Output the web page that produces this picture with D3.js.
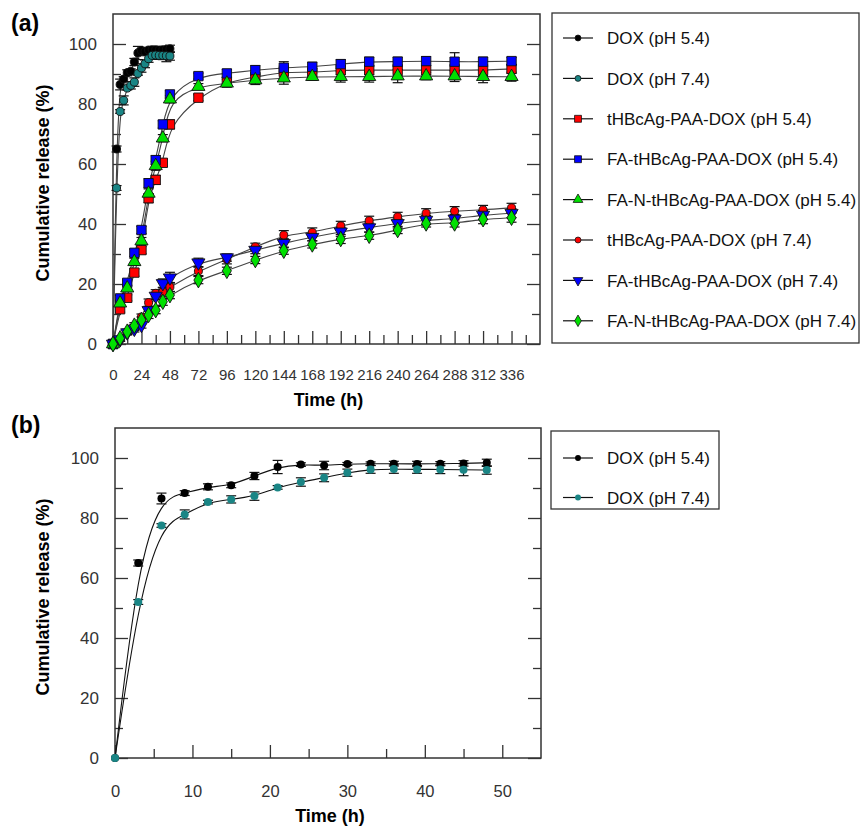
<!DOCTYPE html>
<html>
<head>
<meta charset="utf-8">
<script src="https://cdn.jsdelivr.net/npm/d3@7"></script>
<style>
  body { margin: 0; background: #fff; }
  svg { display: block; font-family: "Liberation Sans", Arial, sans-serif; }
</style>
</head>
<body>
<div id="chart"></div>
<script>
// time points (h)
const timeDox = [0, 3, 6, 9, 12, 15, 18, 21, 24, 27, 30, 33, 36, 39, 42, 45, 48];
const timeNP = [0, 6, 12, 18, 24, 30, 36, 42, 48, 72, 96, 120, 144, 168, 192, 216, 240, 264, 288, 312, 336];

// free DOX
const dox54 = [0, 65, 86.5, 88.3, 90.4, 90.9, 94, 97, 97.8, 97.5, 98, 98.1, 98.1, 98, 98.1, 98.2, 98.4];
const dox54Err = [0, 1, 1.8, 0.8, 1, 0.8, 1.2, 2.2, 0.6, 1.4, 0.5, 0.6, 0.8, 0.9, 0.7, 0.9, 1.2];
const dox74 = [0, 52, 77.5, 81.2, 85.3, 86.2, 87.3, 90.2, 92, 93.4, 95.1, 96.2, 96.3, 96.2, 96.2, 96.1, 96];
const dox74Err = [0, 0.8, 0.6, 1.5, 0.6, 1.2, 1.4, 0.6, 1.4, 1.3, 1.2, 1.3, 1.4, 1.3, 1.4, 2, 1.4];

// nanoparticle formulations
const tHB54 = [0, 11.6, 15.4, 23.8, 31.3, 48.6, 54.7, 60.4, 73.2, 82.1, 87.4, 88.9, 90.8, 90.4, 91.3, 91.3, 91.3, 91.3, 91.3, 91.3, 91.7];
const tHB54Err = [0, 1, 1, 1.2, 1.2, 1.5, 1.5, 1.2, 1.5, 1, 1.5, 1.5, 1.8, 1.5, 1.5, 1.5, 1.8, 1.5, 1.8, 1.8, 1.5];
const faT54 = [0, 15.2, 20.4, 30.4, 38, 53.6, 61.3, 73.2, 83.2, 89.3, 90.2, 91.3, 92.1, 92.4, 93.3, 94.1, 94.1, 94.3, 94.1, 94.1, 94.3];
const faT54Err = [0, 1, 1, 1.2, 1.2, 1.5, 1.5, 1.2, 1.2, 1, 1.3, 1.5, 2, 1.5, 1.5, 1.5, 1.5, 1.5, 3, 1.5, 1.2];
const faN54 = [0, 13.6, 18.6, 27.4, 34.3, 50.2, 59.4, 68.6, 81.6, 85.8, 86.9, 88, 88.6, 89.1, 89.1, 89.1, 89.3, 89.3, 89.3, 89.1, 89.1];
const faN54Err = [0, 1, 1, 1.2, 1.2, 1.5, 1.5, 1.2, 1.2, 1, 1.3, 1.5, 2, 1.2, 1.8, 1.8, 2.2, 1.2, 1.8, 2, 1.5];
const tHB74 = [0, 1.5, 4, 5.5, 9, 13.8, 16.9, 17.4, 19, 24.3, 28.2, 32.4, 36.3, 37.2, 39.4, 41.1, 42.4, 43.6, 44.3, 44.7, 45.4];
const tHB74Err = [0, 0.6, 0.8, 1, 1, 1.2, 1.2, 1.5, 1.5, 1.5, 1.5, 1.2, 1.5, 1.5, 1.5, 1.5, 1.5, 1.5, 1.5, 1.5, 1.5];
const faT74 = [0, 1.5, 3.8, 5, 6.3, 11.2, 16, 20.2, 22.1, 27.1, 28.8, 31.3, 33.6, 35.6, 37.4, 38.8, 40.2, 41.3, 41.7, 43, 43.6];
const faT74Err = [0, 0.6, 0.8, 1, 1, 1.2, 1.2, 1.5, 1.8, 1.5, 1.2, 1.2, 1.5, 1.2, 1.5, 1.5, 1.5, 1.5, 1.5, 1.5, 1.5];
const faN74 = [0, 1.9, 4.1, 6.1, 8, 9.7, 11.3, 14.1, 16.3, 21.3, 24.4, 28, 31.1, 33.2, 35, 36.1, 38, 40.2, 40.2, 41.6, 42.1];
const faN74Err = [0, 0.6, 0.8, 1, 1, 1.2, 1.2, 1.2, 1.2, 1.2, 1.2, 1.2, 1.2, 1.2, 1.5, 1.2, 1.2, 1.2, 1.2, 1.5, 1.5];

const labelsA = ["DOX (pH 5.4)", "DOX (pH 7.4)", "tHBcAg-PAA-DOX (pH 5.4)", "FA-tHBcAg-PAA-DOX (pH 5.4)",
  "FA-N-tHBcAg-PAA-DOX (pH 5.4)", "tHBcAg-PAA-DOX (pH 7.4)", "FA-tHBcAg-PAA-DOX (pH 7.4)", "FA-N-tHBcAg-PAA-DOX (pH 7.4)"];
const xTicksA = [0, 24, 48, 72, 96, 120, 144, 168, 192, 216, 240, 264, 288, 312, 336];
const xTicksB = [0, 10, 20, 30, 40, 50];
const yTicks = [0, 20, 40, 60, 80, 100];

const teal = "#1a8585";
const seriesA = [
  { name: labelsA[0], t: timeDox, v: dox54, e: dox54Err, shape: "circle", fill: "#000" },
  { name: labelsA[1], t: timeDox, v: dox74, e: dox74Err, shape: "circle", fill: teal },
  { name: labelsA[2], t: timeNP, v: tHB54, e: tHB54Err, shape: "square", fill: "#ff0000" },
  { name: labelsA[3], t: timeNP, v: faT54, e: faT54Err, shape: "square", fill: "#0000ff" },
  { name: labelsA[4], t: timeNP, v: faN54, e: faN54Err, shape: "triangle", fill: "#00e000" },
  { name: labelsA[5], t: timeNP, v: tHB74, e: tHB74Err, shape: "circle", fill: "#ff0000" },
  { name: labelsA[6], t: timeNP, v: faT74, e: faT74Err, shape: "down", fill: "#0000ff" },
  { name: labelsA[7], t: timeNP, v: faN74, e: faN74Err, shape: "diamond", fill: "#00e000" }
];
const seriesB = [seriesA[0], seriesA[1]];

const svg = d3.select("#chart").append("svg").attr("width", 861).attr("height", 828);

function symbolPath(shape, scale) {
  const s = scale || 1;
  if (shape === "circle") return d3.symbol(d3.symbolCircle, 46 * s)();
  if (shape === "square") return d3.symbol(d3.symbolSquare, 80 * s)();
  if (shape === "triangle" || shape === "down") return d3.symbol(d3.symbolTriangle, 68 * s)();
  return d3.symbol(d3.symbolDiamond, 64 * s)();
}

function drawPanel(cfg) {
  const { x, y, series, xTicks, xMinor, yMinor, tickFont, tagLabel, tagY } = cfg;
  const g = svg.append("g");
  const [x0, x1] = x.range();
  const [y0, y1] = y.range();

  // axes: ticks pointing inward
  g.append("g").attr("transform", `translate(${x0},0)`)
    .call(d3.axisLeft(y).tickValues(yTicks).tickSize(-13).tickPadding(16))
    .call(a => a.select(".domain").remove())
    .call(a => a.selectAll("text").attr("font-size", 17).attr("fill", "#333"));
  g.append("g").attr("transform", `translate(${x0},0)`)
    .call(d3.axisLeft(y).tickValues(yMinor).tickSize(-8).tickFormat(""))
    .call(a => a.select(".domain").remove());
  g.append("g").attr("transform", `translate(${x1},0)`)
    .call(d3.axisRight(y).tickValues(yTicks).tickSize(-13).tickFormat(""))
    .call(a => a.select(".domain").remove());
  g.append("g").attr("transform", `translate(${x1},0)`)
    .call(d3.axisRight(y).tickValues(yMinor).tickSize(-8).tickFormat(""))
    .call(a => a.select(".domain").remove());
  g.append("g").attr("transform", `translate(0,${y0})`)
    .call(d3.axisBottom(x).tickValues(xTicks).tickSize(-13).tickPadding(cfg.xPad))
    .call(a => a.select(".domain").remove())
    .call(a => a.selectAll("text").attr("font-size", tickFont.size).attr("font-family", tickFont.family).attr("fill", "#333"));
  g.append("g").attr("transform", `translate(0,${y0})`)
    .call(d3.axisBottom(x).tickValues(xMinor).tickSize(-9).tickFormat(""))
    .call(a => a.select(".domain").remove());
  g.selectAll(".tick line").attr("stroke", "#333").attr("stroke-width", 1.3);

  g.append("rect").attr("x", x0).attr("y", y1).attr("width", x1 - x0).attr("height", y0 - y1)
    .attr("fill", "none").attr("stroke", "#333").attr("stroke-width", 1.5);

  // fitted curves
  const line = d3.line().curve(d3.curveBasis).x(d => x(d[0])).y(d => y(d[1]));
  series.forEach(s => {
    g.append("path").datum(s.t.map((t, i) => [t, s.v[i]]))
      .attr("d", line).attr("fill", "none").attr("stroke", cfg.lineColor).attr("stroke-width", 1.1);
  });

  // error bars then markers
  series.forEach(s => {
    const pts = s.t.map((t, i) => ({ t, v: s.v[i], e: s.e[i] })).filter(d => d.e > 0);
    const eb = g.append("g").attr("stroke", "#111").attr("stroke-width", 1.2);
    eb.selectAll("line.v").data(pts).join("line")
      .attr("x1", d => x(d.t)).attr("x2", d => x(d.t))
      .attr("y1", d => y(d.v - d.e)).attr("y2", d => y(d.v + d.e));
    [1, -1].forEach(sg => {
      eb.selectAll("line.c" + sg).data(pts).join("line")
        .attr("x1", d => x(d.t) - cfg.cap).attr("x2", d => x(d.t) + cfg.cap)
        .attr("y1", d => y(d.v + sg * d.e)).attr("y2", d => y(d.v + sg * d.e));
    });
  });
  series.forEach(s => {
    g.append("g").selectAll("path").data(s.t.map((t, i) => [t, s.v[i]])).join("path")
      .attr("d", symbolPath(s.shape, cfg.markerScale))
      .attr("transform", d => `translate(${x(d[0])},${y(d[1])})` + (s.shape === "down" ? " rotate(180)" : ""))
      .attr("fill", s.fill).attr("stroke", cfg.markerStroke ? "#111" : "none").attr("stroke-width", 0.9);
  });

  // titles
  g.append("text").attr("x", (x0 + x1) / 2 + 2).attr("y", cfg.xTitleY).attr("text-anchor", "middle")
    .attr("font-size", 18).attr("font-weight", "bold").text("Time (h)");
  g.append("text").attr("transform", `translate(49,${(y0 + y1) / 2 + 4}) rotate(-90)`).attr("text-anchor", "middle")
    .attr("font-size", 18).attr("font-weight", "bold").text("Cumulative release (%)");
  g.append("text").attr("x", 11).attr("y", tagY).attr("font-size", 23).attr("font-weight", "bold").text(tagLabel);

  // legend
  const lg = cfg.legend;
  g.append("rect").attr("x", lg.x).attr("y", lg.y).attr("width", lg.w).attr("height", lg.h)
    .attr("fill", "none").attr("stroke", "#333").attr("stroke-width", 1.3);
  series.forEach((s, i) => {
    const cy = lg.firstY + i * lg.step;
    g.append("line").attr("x1", 563).attr("x2", 593).attr("y1", cy).attr("y2", cy)
      .attr("stroke", "#111").attr("stroke-width", 1.2);
    g.append("path").attr("d", symbolPath(s.shape, 0.6))
      .attr("transform", `translate(578,${cy})` + (s.shape === "down" ? " rotate(180)" : ""))
      .attr("fill", s.fill).attr("stroke", cfg.markerStroke ? "#111" : "none").attr("stroke-width", 0.8);
    g.append("text").attr("x", 607).attr("y", cy).attr("dy", "0.36em")
      .attr("font-size", 17).attr("fill", "#111").text(s.name);
  });
}

drawPanel({
  x: d3.scaleLinear().domain([0, 360]).range([113, 540]),
  y: d3.scaleLinear().domain([0, 110]).range([344, 14]),
  series: seriesA,
  xTicks: xTicksA,
  xMinor: d3.range(12, 360, 24),
  yMinor: [10, 30, 50, 70, 90],
  tickFont: { size: 15, family: "'Liberation Sans Narrow', 'Liberation Sans', Arial, sans-serif" },
  xPad: 25,
  xTitleY: 406,
  tagLabel: "(a)", tagY: 31,
  cap: 5, markerScale: 1.1, markerStroke: true, lineColor: "#444",
  legend: { x: 552, y: 13, w: 307, h: 330, firstY: 38, step: 40.4 }
});

drawPanel({
  x: d3.scaleLinear().domain([0, 55]).range([115, 541]),
  y: d3.scaleLinear().domain([0, 110]).range([758, 428]),
  series: seriesB,
  xTicks: xTicksB,
  xMinor: [5, 15, 25, 35, 45],
  yMinor: [10, 30, 50, 70, 90],
  tickFont: { size: 16.5, family: "'Liberation Sans', Arial, sans-serif" },
  xPad: 27,
  xTitleY: 822,
  tagLabel: "(b)", tagY: 433,
  cap: 5, markerScale: 1.1, markerStroke: false, lineColor: "#111",
  legend: { x: 551, y: 431, w: 168, h: 78, firstY: 458, step: 39.5 }
});
</script>
</body>
</html>
